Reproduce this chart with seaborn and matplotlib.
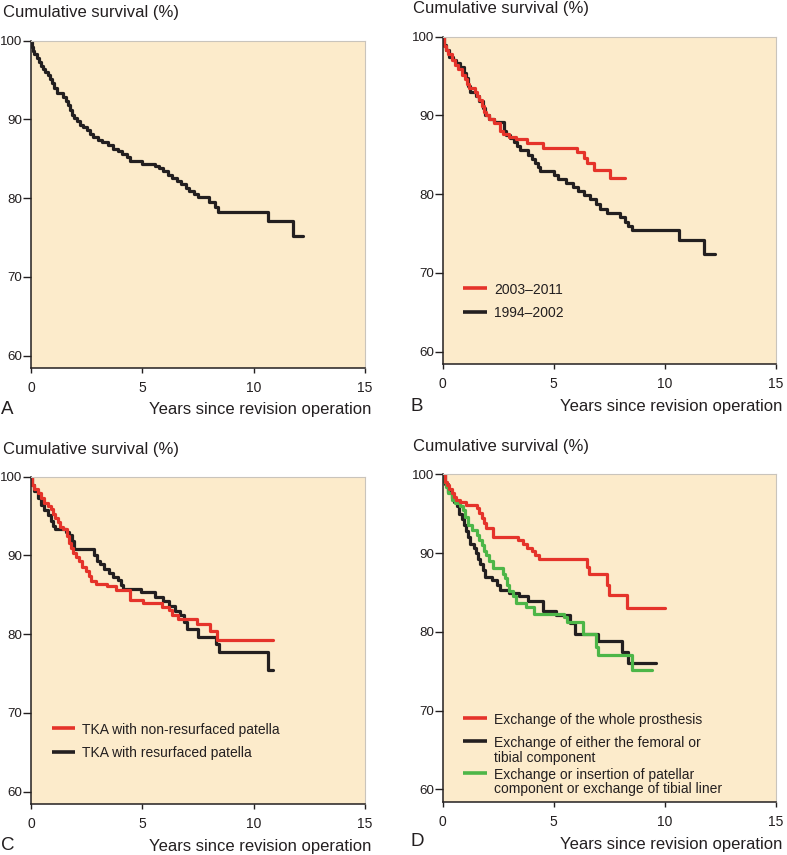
import numpy as np
import pandas as pd
import matplotlib
matplotlib.use("Agg")
import matplotlib.pyplot as plt
import seaborn as sns

# ---------------- data ----------------
# Panel A: all revisions
a_t = [0, 0.03, 0.08, 0.15, 0.25, 0.35, 0.45, 0.55, 0.65, 0.75, 0.85, 0.95, 1.05, 1.15,
       1.45, 1.55, 1.65, 1.75, 1.85, 1.95, 2.05, 2.2, 2.35, 2.5, 2.65, 2.8, 3.0, 3.2,
       3.45, 3.7, 3.9, 4.1, 4.3, 4.45, 5.0, 5.55, 5.75, 5.95, 6.15, 6.35, 6.55, 6.75,
       6.95, 7.1, 7.3, 7.5, 8.0, 8.25, 8.4, 10.65, 11.75, 12.2]
a_v = [100, 99.2, 98.7, 98.3, 97.8, 97.3, 96.8, 96.4, 96.0, 95.6, 95.2, 94.6, 94.0, 93.4,
       92.9, 92.4, 91.8, 91.2, 90.6, 90.2, 89.8, 89.3, 89.0, 88.6, 88.2, 87.8, 87.4, 87.1,
       86.7, 86.3, 86.0, 85.6, 85.2, 84.7, 84.4, 84.1, 83.8, 83.4, 83.0, 82.6, 82.2, 81.8,
       81.3, 80.9, 80.5, 80.2, 79.5, 78.9, 78.3, 77.1, 75.2, 75.2]

# Panel B: period of revision
b_labels = ["2003\u20132011", "1994\u20132002"]
b_red_t = [0, 0.05, 0.15, 0.25, 0.4, 0.55, 0.7, 0.85, 1.0, 1.1, 1.2, 1.45, 1.55, 1.65,
           1.75, 1.85, 1.95, 2.1, 2.3, 2.6, 2.7, 3.0, 3.3, 3.8, 4.5, 6.05, 6.35, 6.5,
           6.8, 7.55, 8.2]
b_red_v = [100, 98.8, 98.3, 97.8, 97.0, 96.4, 95.9, 95.2, 94.6, 94.0, 93.5, 93.0, 92.5,
           91.9, 91.2, 90.5, 90.0, 89.5, 89.0, 88.0, 87.6, 87.3, 87.0, 86.5, 85.9, 85.3,
           84.6, 83.9, 83.1, 82.0, 82.0]
b_blk_t = [0, 0.05, 0.15, 0.3, 0.45, 0.6, 0.8, 0.95, 1.05, 1.15, 1.25, 1.5, 1.65, 1.8,
           1.9, 2.1, 2.3, 2.75, 2.85, 3.05, 3.2, 3.35, 3.5, 3.85, 4.0, 4.15, 4.3, 4.4,
           5.0, 5.2, 5.55, 5.85, 6.1, 6.35, 6.65, 6.9, 7.1, 7.4, 8.0, 8.2, 8.35, 8.5,
           10.65, 11.75, 12.25]
b_blk_v = [100, 99.0, 98.3, 97.4, 97.0, 96.6, 96.1, 95.4, 94.7, 93.8, 93.0, 92.5, 91.8,
           90.9, 90.0, 89.6, 89.2, 88.0, 87.5, 87.1, 86.6, 86.1, 85.6, 85.0, 84.5, 84.0,
           83.5, 82.9, 82.4, 81.9, 81.4, 80.9, 80.4, 79.9, 79.4, 78.7, 78.1, 77.6, 77.1,
           76.5, 76.0, 75.4, 74.2, 72.4, 72.4]

# Panel C: patella resurfacing
c_labels = ["TKA with non-resurfaced patella", "TKA with resurfaced patella"]
c_red_t = [0, 0.05, 0.15, 0.3, 0.45, 0.6, 0.75, 0.9, 1.0, 1.1, 1.2, 1.3, 1.45, 1.6,
           1.7, 1.8, 1.9, 2.0, 2.15, 2.3, 2.45, 2.6, 2.7, 2.9, 3.4, 3.8, 4.45, 5.05,
           5.9, 6.2, 6.35, 6.6, 7.45, 8.05, 8.35, 10.85]
c_red_v = [100, 98.9, 98.4, 97.9, 97.3, 96.7, 96.3, 95.9, 95.3, 94.7, 94.2, 93.6, 93.3,
           92.5, 91.6, 90.9, 90.3, 89.8, 89.3, 88.5, 88.0, 87.4, 86.8, 86.4, 86.1, 85.6,
           84.3, 84.0, 83.5, 83.1, 82.5, 81.9, 81.3, 80.4, 79.3, 79.3]
c_blk_t = [0, 0.05, 0.15, 0.3, 0.45, 0.6, 0.75, 0.9, 1.0, 1.1, 1.55, 1.7, 1.85, 1.95,
           2.85, 2.95, 3.1, 3.3, 3.5, 3.7, 3.9, 4.05, 4.15, 4.95, 5.55, 5.95, 6.2, 6.45,
           6.7, 6.85, 7.0, 7.5, 8.3, 8.45, 10.65, 10.85]
c_blk_v = [100, 99.0, 98.2, 97.3, 96.4, 95.8, 95.1, 94.4, 93.8, 93.3, 93.0, 92.6, 91.8,
           90.8, 90.0, 89.3, 88.9, 88.3, 87.8, 87.3, 86.9, 86.3, 85.8, 85.3, 84.7, 84.2,
           83.6, 83.0, 82.4, 81.6, 80.6, 79.7, 78.8, 77.8, 75.5, 75.5]

# Panel D: type of revision
d_labels = ["Exchange of the whole prosthesis",
            "Exchange of either the femoral or\ntibial component",
            "Exchange or insertion of patellar\ncomponent or exchange of tibial liner"]
d_red_t = [0, 0.1, 0.2, 0.3, 0.4, 0.5, 0.6, 0.8, 1.05, 1.55, 1.65, 1.75, 1.85, 1.95,
           2.25, 3.4, 3.6, 3.8, 4.0, 4.15, 4.35, 6.5, 6.6, 7.4, 7.5, 8.3, 10.0]
d_red_v = [100, 99.0, 98.6, 98.1, 97.6, 97.1, 96.8, 96.5, 96.1, 95.7, 95.1, 94.4, 93.8,
           93.2, 92.1, 91.6, 91.2, 90.7, 90.2, 89.7, 89.2, 88.2, 87.3, 86.0, 84.7, 83.0, 83.0]
d_blk_t = [0, 0.1, 0.25, 0.4, 0.5, 0.65, 0.75, 0.85, 0.95, 1.05, 1.15, 1.25, 1.4, 1.5,
           1.6, 1.7, 1.8, 1.9, 2.2, 2.45, 2.6, 3.0, 3.45, 3.85, 4.5, 5.1, 5.75, 5.95,
           7.0, 8.05, 8.35, 9.6]
d_blk_v = [100, 98.8, 97.8, 97.0, 96.5, 96.0, 95.0, 94.3, 93.5, 92.8, 92.0, 91.2, 90.7,
           90.0, 89.3, 88.6, 87.8, 87.0, 86.6, 85.9, 85.3, 84.9, 84.5, 83.9, 82.7, 82.1,
           81.1, 79.7, 78.8, 77.4, 76.0, 76.0]
d_grn_t = [0, 0.05, 0.15, 0.25, 0.4, 0.55, 0.8, 0.9, 1.0, 1.15, 1.3, 1.55, 1.65, 1.75,
           1.85, 1.95, 2.1, 2.25, 2.7, 2.8, 2.9, 3.0, 3.15, 3.3, 3.75, 4.1, 5.45, 5.6,
           6.3, 6.9, 7.0, 8.5, 9.4]
d_grn_v = [100, 99.0, 98.4, 97.6, 96.8, 96.3, 96.0, 95.5, 94.6, 93.6, 92.9, 92.3, 91.6,
           91.0, 90.3, 89.7, 89.0, 88.1, 87.4, 86.8, 86.0, 85.2, 84.5, 83.7, 83.1, 82.3,
           81.9, 81.3, 79.7, 78.1, 77.1, 75.2, 75.2]

x_ticks = [0, 5, 10, 15]
y_ticks = [60, 70, 80, 90, 100]
y_label = "Cumulative survival (%)"
x_label = "Years since revision operation"
panel_letters = ["A", "B", "C", "D"]

# ---------------- style ----------------
BG = "#FCEBCB"
RED = "#E5332A"
BLK = "#231F20"
GRN = "#4DB648"
TXT = "#231F20"
W, H = 787, 855

sns.set_theme(style="white")
plt.rcParams['font.family'] = ['Liberation Sans', 'DejaVu Sans']

fig = plt.figure(figsize=(W / 100, H / 100), dpi=100)

# axes rectangles in pixels: left, top, right, bottom
rects = [(31, 40.7, 365, 368), (442.7, 36.7, 776, 364),
         (31, 476.7, 365, 804), (442.7, 474.3, 776, 802)]


def make_df(series):
    frames = []
    for name, t, v in series:
        frames.append(pd.DataFrame({"t": t, "v": v, "group": name}))
    return pd.concat(frames, ignore_index=True)


panels = [
    [("All", a_t, a_v)],
    [(b_labels[1], b_blk_t, b_blk_v), (b_labels[0], b_red_t, b_red_v)],
    [(c_labels[1], c_blk_t, c_blk_v), (c_labels[0], c_red_t, c_red_v)],
    [(d_labels[1], d_blk_t, d_blk_v), (d_labels[2], d_grn_t, d_grn_v),
     (d_labels[0], d_red_t, d_red_v)],
]
palettes = [
    {"All": BLK},
    {b_labels[1]: BLK, b_labels[0]: RED},
    {c_labels[1]: BLK, c_labels[0]: RED},
    {d_labels[1]: BLK, d_labels[2]: GRN, d_labels[0]: RED},
]
legends = [
    None,
    [(b_labels[0], RED), (b_labels[1], BLK)],
    [(c_labels[0], RED), (c_labels[1], BLK)],
    [(d_labels[0], RED), (d_labels[1], BLK), (d_labels[2], GRN)],
]
legend_rows = [None, [0.232, 0.160], [0.231, 0.160], [0.257, 0.186, 0.0895]]
ylabel_pos = [(3, 13), (413, 9), (3, 449), (413, 447)]
xlabel_pos = [(371, 409), (782, 406), (371, 846.7), (782, 844)]
letter_pos = [(1, 409), (411, 406), (1, 845), (411, 841)]

for i, (l, t, r, b) in enumerate(rects):
    ax = fig.add_axes([l / W, 1 - b / H, (r - l) / W, (b - t) / H])
    ax.set_facecolor(BG)
    df = make_df(panels[i])
    order = [s[0] for s in panels[i]]
    sns.lineplot(data=df, x="t", y="v", hue="group", hue_order=order,
                 palette=palettes[i], estimator=None, sort=False,
                 drawstyle="steps-post", linewidth=2.3, legend=False, ax=ax)
    ax.set_xlim(0, 15)
    ax.set_ylim(100 - (b - t) / 7.875, 100)
    ax.set_xticks(x_ticks)
    ax.set_yticks(y_ticks)
    ax.set_xlabel("")
    ax.set_ylabel("")
    for s in ["left", "bottom"]:
        ax.spines[s].set_color(TXT)
        ax.spines[s].set_linewidth(1.1)
    for s in ["top", "right"]:
        ax.spines[s].set_color("#C9C4BC")
        ax.spines[s].set_linewidth(0.8)
    ax.tick_params(axis="y", direction="out", length=5.5, width=1, pad=0.6,
                   labelsize=9.6, colors=TXT, left=True)
    ax.tick_params(axis="x", direction="out", length=3.5, width=1, pad=6,
                   labelsize=10, colors=TXT, bottom=True)

    # legend drawn as swatches + text
    if legends[i] is not None:
        em = 10 * 100 / 72 / (b - t)
        for (lab, col), yr in zip(legends[i], legend_rows[i]):
            ax.plot([0.062, 0.133], [yr, yr], transform=ax.transAxes,
                    color=col, lw=2.6, solid_capstyle="butt")
            ax.text(0.154, yr + 0.37 * em, lab, transform=ax.transAxes,
                    ha="left", va="top", fontsize=10, color=TXT, linespacing=1.08)

    px, py = ylabel_pos[i]
    fig.text(px / W, 1 - py / H, y_label, ha="left", va="center",
             fontsize=12, color=TXT)
    px, py = xlabel_pos[i]
    fig.text(px / W, 1 - py / H, x_label, ha="right", va="center",
             fontsize=12, color=TXT)
    px, py = letter_pos[i]
    fig.text(px / W, 1 - py / H, panel_letters[i], ha="left", va="center",
             fontsize=13.5, color=TXT)

fig.savefig("out.png", dpi=100, facecolor="white")
